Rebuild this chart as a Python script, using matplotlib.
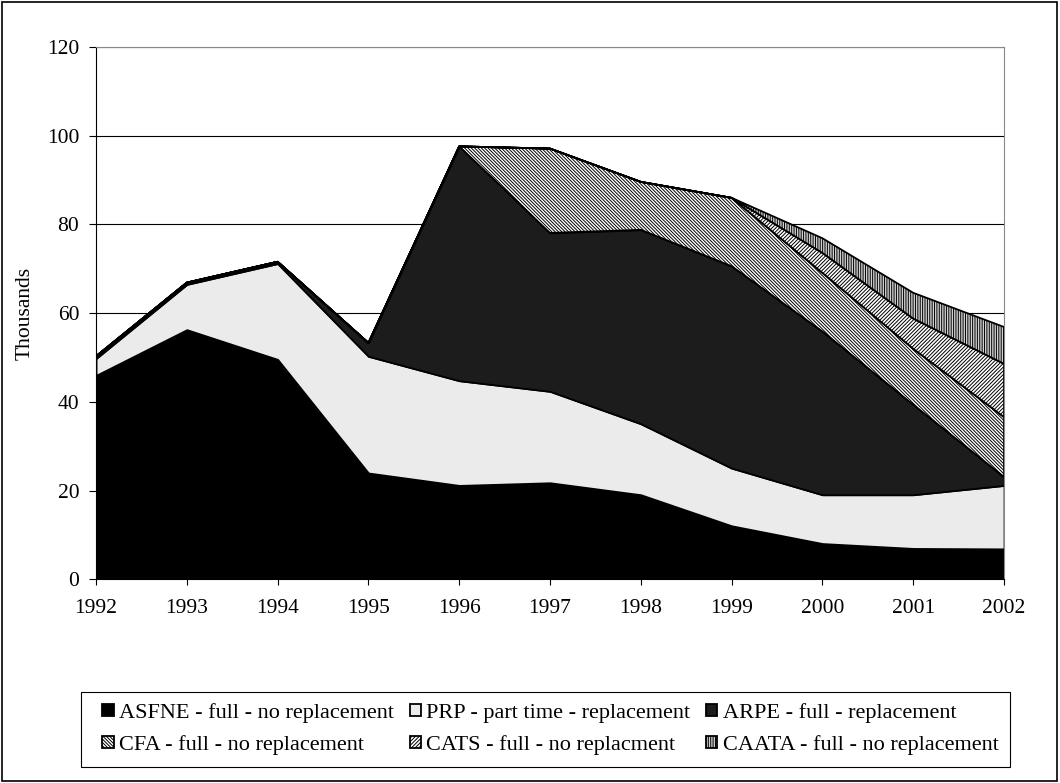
import numpy as np
import matplotlib.pyplot as plt
from matplotlib.patches import Rectangle

years = [1992, 1993, 1994, 1995, 1996, 1997, 1998, 1999, 2000, 2001, 2002]

# values in thousands
asfne = [46.0, 56.3, 49.6, 24.0, 21.2, 21.8, 19.1, 12.1, 8.1, 7.0, 6.9]
prp = [3.8, 10.2, 21.6, 26.3, 23.6, 20.6, 16.0, 13.0, 11.0, 12.1, 14.3]
arpe = [0.5, 0.4, 0.4, 3.0, 52.8, 35.7, 43.7, 45.5, 36.8, 20.3, 1.9]
cfa = [0, 0, 0, 0, 0, 19.0, 10.8, 15.4, 13.2, 12.6, 13.5]
cats = [0, 0, 0, 0, 0, 0, 0, 0, 4.5, 6.8, 12.0]
caata = [0, 0, 0, 0, 0, 0, 0, 0, 3.3, 5.8, 8.3]

labels = ['ASFNE - full - no replacement', 'PRP - part time - replacement',
          'ARPE - full - replacement', 'CFA - full - no replacement',
          'CATS - full - no replacment', 'CAATA - full - no replacement']
faces = ['black', '#ebebeb', '#1c1c1c', 'white', 'white', '#d0d0d0']
hatches = [None, None, None, '\\' * 10, '/' * 9, '|' * 7]

plt.rcParams['font.family'] = ['Liberation Serif', 'DejaVu Serif']
plt.rcParams['font.size'] = 15.5
plt.rcParams['hatch.linewidth'] = 0.7

fig = plt.figure(figsize=(10.6, 7.83), dpi=100)
ax = fig.add_axes([0.0906, 0.2599, 0.8566, 0.6801])

polys = ax.stackplot(years, asfne, prp, arpe, cfa, cats, caata,
                     labels=labels, colors=faces, edgecolor='black', linewidth=1.3, zorder=2)
for p, h in zip(polys, hatches):
    if h:
        p.set_hatch(h)

ax.set_xlim(1992, 2002)
ax.set_ylim(0, 120)
ax.set_xticks(years)
ax.set_yticks(range(0, 121, 20))
ax.yaxis.grid(True, color='black', linewidth=0.8, zorder=0)
ax.set_axisbelow(True)
ax.tick_params(axis='x', direction='out', length=4, width=0.8, pad=10, labelsize=15.5)
ax.tick_params(axis='y', direction='out', length=5, width=0.8, pad=7, labelsize=15.5)
for s in ['top', 'right']:
    ax.spines[s].set_color('#888888')
ax.set_ylabel('Thousands', fontsize=15.5, labelpad=9)

# legend is filled column by column, so reorder for two rows of three
h, l = ax.get_legend_handles_labels()
order = [0, 3, 1, 4, 2, 5]
leg = fig.legend([h[i] for i in order], [l[i] for i in order], ncol=3,
                 loc='center', bbox_to_anchor=(0.5193, 0.0690),
                 frameon=False, handlelength=0.5, handleheight=0.5, handletextpad=0.25,
                 columnspacing=0.7, labelspacing=0.55, borderpad=0, fontsize=16)

# legend box drawn separately (wider side padding than top/bottom)
fig.patches.append(Rectangle((0.0764, 0.0204), 0.8764, 0.0958, transform=fig.transFigure,
                             fill=False, edgecolor='black', linewidth=0.8))
fig.patches.append(Rectangle((0.002, 0.002), 0.995, 0.995, transform=fig.transFigure,
                             fill=False, edgecolor='black', linewidth=1.2))

plt.savefig('out.png')
